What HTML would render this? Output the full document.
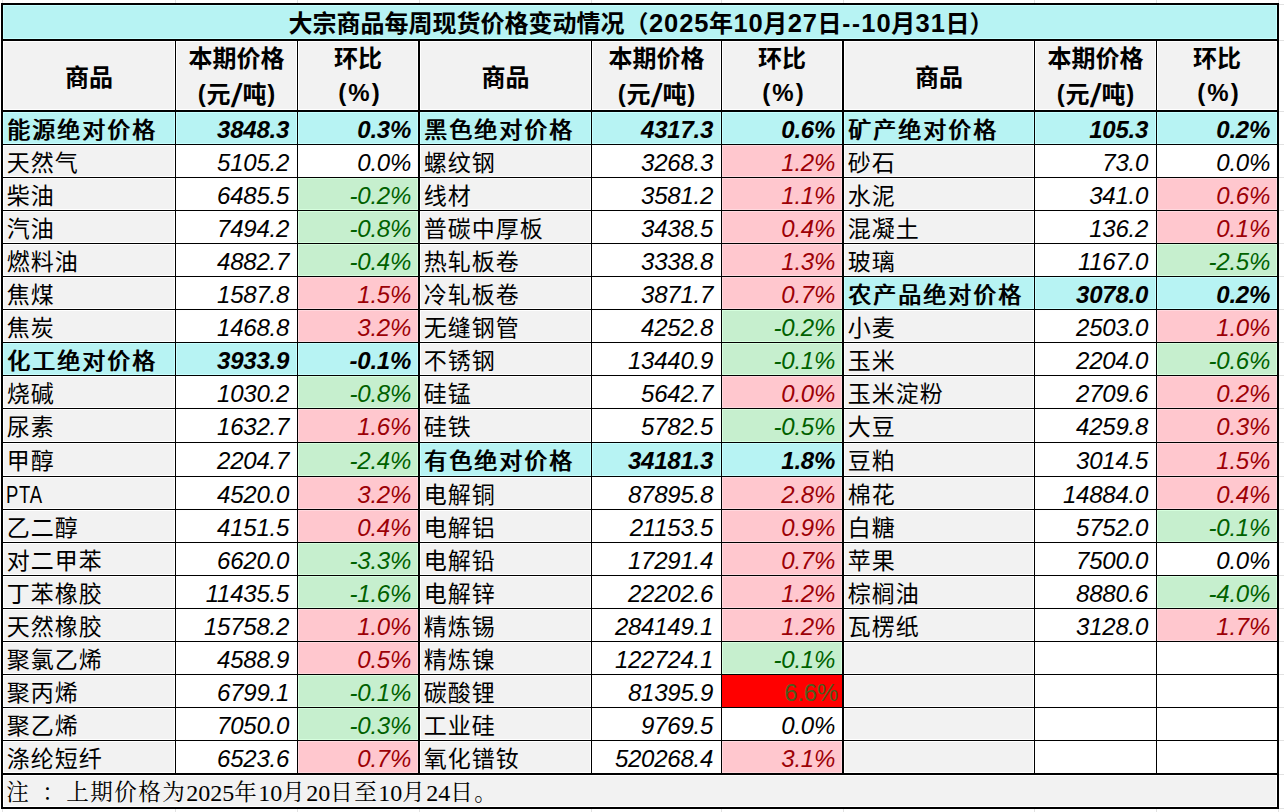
<!DOCTYPE html>
<html lang="zh-CN"><head><meta charset="utf-8"><title>大宗商品每周现货价格变动情况</title>
<style>
html,body{margin:0;padding:0;background:#fff;}
body{width:1284px;height:812px;position:relative;overflow:hidden;}
#t div{position:absolute;box-sizing:border-box;}
.c{white-space:nowrap;overflow:visible;color:#000;}
.cy{background:#b7f3f3;box-shadow:inset 0 0 0 1px #c6ffff;}
.gr{background:#f2f2f2;box-shadow:inset 0 0 0 1px #ffffff;}
.pk{background:#ffc7ce;box-shadow:inset 0 0 0 1px #ffd8de;color:#9c0006;}
.gn{background:#c6efce;box-shadow:inset 0 0 0 1px #d6ffde;color:#006100;}
.wh{background:#fff;}
.rd{background:#f00;}
.title{font:bold 24px "Liberation Sans","Noto Sans CJK SC",sans-serif;text-align:center;line-height:34px;padding-top:2px;padding-left:1.8px;}
.title i{font-style:normal;line-height:0;font-size:25.5px;letter-spacing:0.95px;margin-right:-0.475px;margin-left:0.475px;}
.title b{letter-spacing:1.7px;margin-right:-0.85px;margin-left:0.85px;}
.hd{font:bold 24px "Liberation Sans","Noto Sans CJK SC",sans-serif;text-align:center;}
.hd span{display:block;position:absolute;left:0;width:100%;line-height:36px;}
.hd .l0{top:19px;}
.hd .l1{top:0px;}
.hd .l2{top:36px;}
.hd .l2.pc{top:34px;}
.hd .pc{letter-spacing:2px;padding-left:2px;}
.hd u{text-decoration:none;display:inline-block;width:9.7px;position:relative;top:-1.5px;}
.hd s{text-decoration:none;display:inline-block;width:12px;transform:scaleX(1.4);font-family:"Noto Sans CJK SC",sans-serif;font-size:24.5px;position:relative;top:-0.5px;line-height:0;height:0;}
.nm{font:normal 23px "Liberation Sans","Noto Sans CJK SC",sans-serif;padding-left:3.75px;line-height:32px;padding-top:2px;letter-spacing:1px;}
.nm.b{font-weight:400;text-shadow:1px 0 0 #000;letter-spacing:2px;padding-left:3.75px;}
.lat{display:inline-block;font-size:24px;line-height:0;letter-spacing:1px;transform:scaleX(0.77);transform-origin:0 50%;margin-left:-0.5px;}
.num{font:italic 24px "Liberation Sans",sans-serif;letter-spacing:-0.25px;text-align:right;padding-right:8px;line-height:32px;padding-top:2px;}
.num.p{padding-right:7px;}
.num.b{font-weight:bold;}
.num.x{font-style:normal;color:#4f5b1e;padding-right:4px;}
.note{font:22.5px "Liberation Serif","Noto Serif CJK SC",serif;padding-left:3.25px;line-height:32px;padding-top:2px;letter-spacing:1.5px;}
.note i{font-style:normal;position:relative;top:1px;font-size:24px;letter-spacing:0px;line-height:0;}
.note b{font-weight:normal;display:inline-block;width:12px;letter-spacing:0;white-space:pre;}
.note em{font-style:normal;display:inline-block;width:24px;text-align:left;text-indent:0px;letter-spacing:0;}
</style></head>
<body><div id="t">
<div style="left:1279px;top:4px;width:5px;height:1px;background:#e2e2e2;"></div>
<div style="left:1279px;top:40px;width:5px;height:1px;background:#e2e2e2;"></div>
<div style="left:1279px;top:111px;width:5px;height:1px;background:#e2e2e2;"></div>
<div style="left:1279px;top:144px;width:5px;height:1px;background:#e2e2e2;"></div>
<div style="left:1279px;top:177px;width:5px;height:1px;background:#e2e2e2;"></div>
<div style="left:1279px;top:210px;width:5px;height:1px;background:#e2e2e2;"></div>
<div style="left:1279px;top:243px;width:5px;height:1px;background:#e2e2e2;"></div>
<div style="left:1279px;top:276px;width:5px;height:1px;background:#e2e2e2;"></div>
<div style="left:1279px;top:309px;width:5px;height:1px;background:#e2e2e2;"></div>
<div style="left:1279px;top:342px;width:5px;height:1px;background:#e2e2e2;"></div>
<div style="left:1279px;top:375px;width:5px;height:1px;background:#e2e2e2;"></div>
<div style="left:1279px;top:408px;width:5px;height:1px;background:#e2e2e2;"></div>
<div style="left:1279px;top:442px;width:5px;height:1px;background:#e2e2e2;"></div>
<div style="left:1279px;top:476px;width:5px;height:1px;background:#e2e2e2;"></div>
<div style="left:1279px;top:509px;width:5px;height:1px;background:#e2e2e2;"></div>
<div style="left:1279px;top:542px;width:5px;height:1px;background:#e2e2e2;"></div>
<div style="left:1279px;top:575px;width:5px;height:1px;background:#e2e2e2;"></div>
<div style="left:1279px;top:608px;width:5px;height:1px;background:#e2e2e2;"></div>
<div style="left:1279px;top:641px;width:5px;height:1px;background:#e2e2e2;"></div>
<div style="left:1279px;top:674px;width:5px;height:1px;background:#e2e2e2;"></div>
<div style="left:1279px;top:707px;width:5px;height:1px;background:#e2e2e2;"></div>
<div style="left:1279px;top:740px;width:5px;height:1px;background:#e2e2e2;"></div>
<div style="left:1279px;top:774px;width:5px;height:1px;background:#e2e2e2;"></div>
<div style="left:1279px;top:808px;width:5px;height:1px;background:#e2e2e2;"></div>
<div style="left:2px;top:0px;width:1px;height:3px;background:#e2e2e2;"></div>
<div style="left:2px;top:809px;width:1px;height:3px;background:#e2e2e2;"></div>
<div style="left:175px;top:0px;width:1px;height:3px;background:#e2e2e2;"></div>
<div style="left:175px;top:809px;width:1px;height:3px;background:#e2e2e2;"></div>
<div style="left:297px;top:0px;width:1px;height:3px;background:#e2e2e2;"></div>
<div style="left:297px;top:809px;width:1px;height:3px;background:#e2e2e2;"></div>
<div style="left:419px;top:0px;width:1px;height:3px;background:#e2e2e2;"></div>
<div style="left:419px;top:809px;width:1px;height:3px;background:#e2e2e2;"></div>
<div style="left:591px;top:0px;width:1px;height:3px;background:#e2e2e2;"></div>
<div style="left:591px;top:809px;width:1px;height:3px;background:#e2e2e2;"></div>
<div style="left:721px;top:0px;width:1px;height:3px;background:#e2e2e2;"></div>
<div style="left:721px;top:809px;width:1px;height:3px;background:#e2e2e2;"></div>
<div style="left:843px;top:0px;width:1px;height:3px;background:#e2e2e2;"></div>
<div style="left:843px;top:809px;width:1px;height:3px;background:#e2e2e2;"></div>
<div style="left:1034px;top:0px;width:1px;height:3px;background:#e2e2e2;"></div>
<div style="left:1034px;top:809px;width:1px;height:3px;background:#e2e2e2;"></div>
<div style="left:1156px;top:0px;width:1px;height:3px;background:#e2e2e2;"></div>
<div style="left:1156px;top:809px;width:1px;height:3px;background:#e2e2e2;"></div>
<div style="left:1278px;top:0px;width:1px;height:3px;background:#e2e2e2;"></div>
<div style="left:1278px;top:809px;width:1px;height:3px;background:#e2e2e2;"></div>
<div style="left:1px;top:3px;width:1278px;height:806px;background:#000;"></div>
<div class="c cy title" style="left:3px;top:5px;width:1274px;height:34px;">大宗商品每周现货价格变动情况（<i>2025</i>年<i>10</i>月<i>27</i>日<b>--</b><i>10</i>月<i>31</i>日）</div>
<div class="c gr hd hd1" style="left:3px;top:41px;width:172px;height:69px;"><span class="l0">商品</span></div>
<div class="c gr hd hd2" style="left:176px;top:41px;width:121px;height:69px;"><span class="l1">本期价格</span><span class="l2"><u>(</u>元<s>/</s>吨<u>)</u></span></div>
<div class="c gr hd hd2" style="left:298px;top:41px;width:120px;height:69px;"><span class="l1">环比</span><span class="l2 pc">(%)</span></div>
<div class="c gr hd hd1" style="left:420px;top:41px;width:171px;height:69px;"><span class="l0">商品</span></div>
<div class="c gr hd hd2" style="left:592px;top:41px;width:129px;height:69px;"><span class="l1">本期价格</span><span class="l2"><u>(</u>元<s>/</s>吨<u>)</u></span></div>
<div class="c gr hd hd2" style="left:722px;top:41px;width:120px;height:69px;"><span class="l1">环比</span><span class="l2 pc">(%)</span></div>
<div class="c gr hd hd1" style="left:844px;top:41px;width:190px;height:69px;"><span class="l0">商品</span></div>
<div class="c gr hd hd2" style="left:1035px;top:41px;width:121px;height:69px;"><span class="l1">本期价格</span><span class="l2"><u>(</u>元<s>/</s>吨<u>)</u></span></div>
<div class="c gr hd hd2" style="left:1157px;top:41px;width:120px;height:69px;"><span class="l1">环比</span><span class="l2 pc">(%)</span></div>
<div class="c cy nm b" style="left:3px;top:112px;width:172px;height:32px;">能源绝对价格</div>
<div class="c cy num b" style="left:176px;top:112px;width:121px;height:32px;">3848.3</div>
<div class="c cy num p b" style="left:298px;top:112px;width:120px;height:32px;">0.3%</div>
<div class="c gr nm" style="left:3px;top:145px;width:172px;height:32px;">天然气</div>
<div class="c wh num" style="left:176px;top:145px;width:121px;height:32px;">5105.2</div>
<div class="c wh num p" style="left:298px;top:145px;width:120px;height:32px;">0.0%</div>
<div class="c gr nm" style="left:3px;top:178px;width:172px;height:32px;">柴油</div>
<div class="c wh num" style="left:176px;top:178px;width:121px;height:32px;">6485.5</div>
<div class="c gn num p" style="left:298px;top:178px;width:120px;height:32px;">-0.2%</div>
<div class="c gr nm" style="left:3px;top:211px;width:172px;height:32px;">汽油</div>
<div class="c wh num" style="left:176px;top:211px;width:121px;height:32px;">7494.2</div>
<div class="c gn num p" style="left:298px;top:211px;width:120px;height:32px;">-0.8%</div>
<div class="c gr nm" style="left:3px;top:244px;width:172px;height:32px;">燃料油</div>
<div class="c wh num" style="left:176px;top:244px;width:121px;height:32px;">4882.7</div>
<div class="c gn num p" style="left:298px;top:244px;width:120px;height:32px;">-0.4%</div>
<div class="c gr nm" style="left:3px;top:277px;width:172px;height:32px;">焦煤</div>
<div class="c wh num" style="left:176px;top:277px;width:121px;height:32px;">1587.8</div>
<div class="c pk num p" style="left:298px;top:277px;width:120px;height:32px;">1.5%</div>
<div class="c gr nm" style="left:3px;top:310px;width:172px;height:32px;">焦炭</div>
<div class="c wh num" style="left:176px;top:310px;width:121px;height:32px;">1468.8</div>
<div class="c pk num p" style="left:298px;top:310px;width:120px;height:32px;">3.2%</div>
<div class="c cy nm b" style="left:3px;top:343px;width:172px;height:32px;">化工绝对价格</div>
<div class="c cy num b" style="left:176px;top:343px;width:121px;height:32px;">3933.9</div>
<div class="c cy num p b" style="left:298px;top:343px;width:120px;height:32px;">-0.1%</div>
<div class="c gr nm" style="left:3px;top:376px;width:172px;height:32px;">烧碱</div>
<div class="c wh num" style="left:176px;top:376px;width:121px;height:32px;">1030.2</div>
<div class="c gn num p" style="left:298px;top:376px;width:120px;height:32px;">-0.8%</div>
<div class="c gr nm" style="left:3px;top:409px;width:172px;height:33px;">尿素</div>
<div class="c wh num" style="left:176px;top:409px;width:121px;height:33px;">1632.7</div>
<div class="c pk num p" style="left:298px;top:409px;width:120px;height:33px;">1.6%</div>
<div class="c gr nm" style="left:3px;top:443px;width:172px;height:33px;">甲醇</div>
<div class="c wh num" style="left:176px;top:443px;width:121px;height:33px;">2204.7</div>
<div class="c gn num p" style="left:298px;top:443px;width:120px;height:33px;">-2.4%</div>
<div class="c gr nm" style="left:3px;top:477px;width:172px;height:32px;"><span class="lat">PTA</span></div>
<div class="c wh num" style="left:176px;top:477px;width:121px;height:32px;">4520.0</div>
<div class="c pk num p" style="left:298px;top:477px;width:120px;height:32px;">3.2%</div>
<div class="c gr nm" style="left:3px;top:510px;width:172px;height:32px;">乙二醇</div>
<div class="c wh num" style="left:176px;top:510px;width:121px;height:32px;">4151.5</div>
<div class="c pk num p" style="left:298px;top:510px;width:120px;height:32px;">0.4%</div>
<div class="c gr nm" style="left:3px;top:543px;width:172px;height:32px;">对二甲苯</div>
<div class="c wh num" style="left:176px;top:543px;width:121px;height:32px;">6620.0</div>
<div class="c gn num p" style="left:298px;top:543px;width:120px;height:32px;">-3.3%</div>
<div class="c gr nm" style="left:3px;top:576px;width:172px;height:32px;">丁苯橡胶</div>
<div class="c wh num" style="left:176px;top:576px;width:121px;height:32px;">11435.5</div>
<div class="c gn num p" style="left:298px;top:576px;width:120px;height:32px;">-1.6%</div>
<div class="c gr nm" style="left:3px;top:609px;width:172px;height:32px;">天然橡胶</div>
<div class="c wh num" style="left:176px;top:609px;width:121px;height:32px;">15758.2</div>
<div class="c pk num p" style="left:298px;top:609px;width:120px;height:32px;">1.0%</div>
<div class="c gr nm" style="left:3px;top:642px;width:172px;height:32px;">聚氯乙烯</div>
<div class="c wh num" style="left:176px;top:642px;width:121px;height:32px;">4588.9</div>
<div class="c pk num p" style="left:298px;top:642px;width:120px;height:32px;">0.5%</div>
<div class="c gr nm" style="left:3px;top:675px;width:172px;height:32px;">聚丙烯</div>
<div class="c wh num" style="left:176px;top:675px;width:121px;height:32px;">6799.1</div>
<div class="c gn num p" style="left:298px;top:675px;width:120px;height:32px;">-0.1%</div>
<div class="c gr nm" style="left:3px;top:708px;width:172px;height:32px;">聚乙烯</div>
<div class="c wh num" style="left:176px;top:708px;width:121px;height:32px;">7050.0</div>
<div class="c gn num p" style="left:298px;top:708px;width:120px;height:32px;">-0.3%</div>
<div class="c gr nm" style="left:3px;top:741px;width:172px;height:32px;">涤纶短纤</div>
<div class="c wh num" style="left:176px;top:741px;width:121px;height:32px;">6523.6</div>
<div class="c pk num p" style="left:298px;top:741px;width:120px;height:32px;">0.7%</div>
<div class="c cy nm b" style="left:420px;top:112px;width:171px;height:32px;">黑色绝对价格</div>
<div class="c cy num b" style="left:592px;top:112px;width:129px;height:32px;">4317.3</div>
<div class="c cy num p b" style="left:722px;top:112px;width:120px;height:32px;">0.6%</div>
<div class="c gr nm" style="left:420px;top:145px;width:171px;height:32px;">螺纹钢</div>
<div class="c wh num" style="left:592px;top:145px;width:129px;height:32px;">3268.3</div>
<div class="c pk num p" style="left:722px;top:145px;width:120px;height:32px;">1.2%</div>
<div class="c gr nm" style="left:420px;top:178px;width:171px;height:32px;">线材</div>
<div class="c wh num" style="left:592px;top:178px;width:129px;height:32px;">3581.2</div>
<div class="c pk num p" style="left:722px;top:178px;width:120px;height:32px;">1.1%</div>
<div class="c gr nm" style="left:420px;top:211px;width:171px;height:32px;">普碳中厚板</div>
<div class="c wh num" style="left:592px;top:211px;width:129px;height:32px;">3438.5</div>
<div class="c pk num p" style="left:722px;top:211px;width:120px;height:32px;">0.4%</div>
<div class="c gr nm" style="left:420px;top:244px;width:171px;height:32px;">热轧板卷</div>
<div class="c wh num" style="left:592px;top:244px;width:129px;height:32px;">3338.8</div>
<div class="c pk num p" style="left:722px;top:244px;width:120px;height:32px;">1.3%</div>
<div class="c gr nm" style="left:420px;top:277px;width:171px;height:32px;">冷轧板卷</div>
<div class="c wh num" style="left:592px;top:277px;width:129px;height:32px;">3871.7</div>
<div class="c pk num p" style="left:722px;top:277px;width:120px;height:32px;">0.7%</div>
<div class="c gr nm" style="left:420px;top:310px;width:171px;height:32px;">无缝钢管</div>
<div class="c wh num" style="left:592px;top:310px;width:129px;height:32px;">4252.8</div>
<div class="c gn num p" style="left:722px;top:310px;width:120px;height:32px;">-0.2%</div>
<div class="c gr nm" style="left:420px;top:343px;width:171px;height:32px;">不锈钢</div>
<div class="c wh num" style="left:592px;top:343px;width:129px;height:32px;">13440.9</div>
<div class="c gn num p" style="left:722px;top:343px;width:120px;height:32px;">-0.1%</div>
<div class="c gr nm" style="left:420px;top:376px;width:171px;height:32px;">硅锰</div>
<div class="c wh num" style="left:592px;top:376px;width:129px;height:32px;">5642.7</div>
<div class="c pk num p" style="left:722px;top:376px;width:120px;height:32px;">0.0%</div>
<div class="c gr nm" style="left:420px;top:409px;width:171px;height:33px;">硅铁</div>
<div class="c wh num" style="left:592px;top:409px;width:129px;height:33px;">5782.5</div>
<div class="c gn num p" style="left:722px;top:409px;width:120px;height:33px;">-0.5%</div>
<div class="c cy nm b" style="left:420px;top:443px;width:171px;height:33px;">有色绝对价格</div>
<div class="c cy num b" style="left:592px;top:443px;width:129px;height:33px;">34181.3</div>
<div class="c cy num p b" style="left:722px;top:443px;width:120px;height:33px;">1.8%</div>
<div class="c gr nm" style="left:420px;top:477px;width:171px;height:32px;">电解铜</div>
<div class="c wh num" style="left:592px;top:477px;width:129px;height:32px;">87895.8</div>
<div class="c pk num p" style="left:722px;top:477px;width:120px;height:32px;">2.8%</div>
<div class="c gr nm" style="left:420px;top:510px;width:171px;height:32px;">电解铝</div>
<div class="c wh num" style="left:592px;top:510px;width:129px;height:32px;">21153.5</div>
<div class="c pk num p" style="left:722px;top:510px;width:120px;height:32px;">0.9%</div>
<div class="c gr nm" style="left:420px;top:543px;width:171px;height:32px;">电解铅</div>
<div class="c wh num" style="left:592px;top:543px;width:129px;height:32px;">17291.4</div>
<div class="c pk num p" style="left:722px;top:543px;width:120px;height:32px;">0.7%</div>
<div class="c gr nm" style="left:420px;top:576px;width:171px;height:32px;">电解锌</div>
<div class="c wh num" style="left:592px;top:576px;width:129px;height:32px;">22202.6</div>
<div class="c pk num p" style="left:722px;top:576px;width:120px;height:32px;">1.2%</div>
<div class="c gr nm" style="left:420px;top:609px;width:171px;height:32px;">精炼锡</div>
<div class="c wh num" style="left:592px;top:609px;width:129px;height:32px;">284149.1</div>
<div class="c pk num p" style="left:722px;top:609px;width:120px;height:32px;">1.2%</div>
<div class="c gr nm" style="left:420px;top:642px;width:171px;height:32px;">精炼镍</div>
<div class="c wh num" style="left:592px;top:642px;width:129px;height:32px;">122724.1</div>
<div class="c gn num p" style="left:722px;top:642px;width:120px;height:32px;">-0.1%</div>
<div class="c gr nm" style="left:420px;top:675px;width:171px;height:32px;">碳酸锂</div>
<div class="c wh num" style="left:592px;top:675px;width:129px;height:32px;">81395.9</div>
<div class="c rd num x" style="left:722px;top:675px;width:120px;height:32px;">6.6%</div>
<div class="c gr nm" style="left:420px;top:708px;width:171px;height:32px;">工业硅</div>
<div class="c wh num" style="left:592px;top:708px;width:129px;height:32px;">9769.5</div>
<div class="c wh num p" style="left:722px;top:708px;width:120px;height:32px;">0.0%</div>
<div class="c gr nm" style="left:420px;top:741px;width:171px;height:32px;">氧化镨钕</div>
<div class="c wh num" style="left:592px;top:741px;width:129px;height:32px;">520268.4</div>
<div class="c pk num p" style="left:722px;top:741px;width:120px;height:32px;">3.1%</div>
<div class="c cy nm b" style="left:844px;top:112px;width:190px;height:32px;">矿产绝对价格</div>
<div class="c cy num b" style="left:1035px;top:112px;width:121px;height:32px;">105.3</div>
<div class="c cy num p b" style="left:1157px;top:112px;width:120px;height:32px;">0.2%</div>
<div class="c gr nm" style="left:844px;top:145px;width:190px;height:32px;">砂石</div>
<div class="c wh num" style="left:1035px;top:145px;width:121px;height:32px;">73.0</div>
<div class="c wh num p" style="left:1157px;top:145px;width:120px;height:32px;">0.0%</div>
<div class="c gr nm" style="left:844px;top:178px;width:190px;height:32px;">水泥</div>
<div class="c wh num" style="left:1035px;top:178px;width:121px;height:32px;">341.0</div>
<div class="c pk num p" style="left:1157px;top:178px;width:120px;height:32px;">0.6%</div>
<div class="c gr nm" style="left:844px;top:211px;width:190px;height:32px;">混凝土</div>
<div class="c wh num" style="left:1035px;top:211px;width:121px;height:32px;">136.2</div>
<div class="c pk num p" style="left:1157px;top:211px;width:120px;height:32px;">0.1%</div>
<div class="c gr nm" style="left:844px;top:244px;width:190px;height:32px;">玻璃</div>
<div class="c wh num" style="left:1035px;top:244px;width:121px;height:32px;">1167.0</div>
<div class="c gn num p" style="left:1157px;top:244px;width:120px;height:32px;">-2.5%</div>
<div class="c cy nm b" style="left:844px;top:277px;width:190px;height:32px;">农产品绝对价格</div>
<div class="c cy num b" style="left:1035px;top:277px;width:121px;height:32px;">3078.0</div>
<div class="c cy num p b" style="left:1157px;top:277px;width:120px;height:32px;">0.2%</div>
<div class="c gr nm" style="left:844px;top:310px;width:190px;height:32px;">小麦</div>
<div class="c wh num" style="left:1035px;top:310px;width:121px;height:32px;">2503.0</div>
<div class="c pk num p" style="left:1157px;top:310px;width:120px;height:32px;">1.0%</div>
<div class="c gr nm" style="left:844px;top:343px;width:190px;height:32px;">玉米</div>
<div class="c wh num" style="left:1035px;top:343px;width:121px;height:32px;">2204.0</div>
<div class="c gn num p" style="left:1157px;top:343px;width:120px;height:32px;">-0.6%</div>
<div class="c gr nm" style="left:844px;top:376px;width:190px;height:32px;">玉米淀粉</div>
<div class="c wh num" style="left:1035px;top:376px;width:121px;height:32px;">2709.6</div>
<div class="c pk num p" style="left:1157px;top:376px;width:120px;height:32px;">0.2%</div>
<div class="c gr nm" style="left:844px;top:409px;width:190px;height:33px;">大豆</div>
<div class="c wh num" style="left:1035px;top:409px;width:121px;height:33px;">4259.8</div>
<div class="c pk num p" style="left:1157px;top:409px;width:120px;height:33px;">0.3%</div>
<div class="c gr nm" style="left:844px;top:443px;width:190px;height:33px;">豆粕</div>
<div class="c wh num" style="left:1035px;top:443px;width:121px;height:33px;">3014.5</div>
<div class="c pk num p" style="left:1157px;top:443px;width:120px;height:33px;">1.5%</div>
<div class="c gr nm" style="left:844px;top:477px;width:190px;height:32px;">棉花</div>
<div class="c wh num" style="left:1035px;top:477px;width:121px;height:32px;">14884.0</div>
<div class="c pk num p" style="left:1157px;top:477px;width:120px;height:32px;">0.4%</div>
<div class="c gr nm" style="left:844px;top:510px;width:190px;height:32px;">白糖</div>
<div class="c wh num" style="left:1035px;top:510px;width:121px;height:32px;">5752.0</div>
<div class="c gn num p" style="left:1157px;top:510px;width:120px;height:32px;">-0.1%</div>
<div class="c gr nm" style="left:844px;top:543px;width:190px;height:32px;">苹果</div>
<div class="c wh num" style="left:1035px;top:543px;width:121px;height:32px;">7500.0</div>
<div class="c wh num p" style="left:1157px;top:543px;width:120px;height:32px;">0.0%</div>
<div class="c gr nm" style="left:844px;top:576px;width:190px;height:32px;">棕榈油</div>
<div class="c wh num" style="left:1035px;top:576px;width:121px;height:32px;">8880.6</div>
<div class="c gn num p" style="left:1157px;top:576px;width:120px;height:32px;">-4.0%</div>
<div class="c gr nm" style="left:844px;top:609px;width:190px;height:32px;">瓦楞纸</div>
<div class="c wh num" style="left:1035px;top:609px;width:121px;height:32px;">3128.0</div>
<div class="c pk num p" style="left:1157px;top:609px;width:120px;height:32px;">1.7%</div>
<div class="c gr nm" style="left:844px;top:642px;width:190px;height:32px;"></div>
<div class="c wh num" style="left:1035px;top:642px;width:121px;height:32px;"></div>
<div class="c wh num p" style="left:1157px;top:642px;width:120px;height:32px;"></div>
<div class="c gr nm" style="left:844px;top:675px;width:190px;height:32px;"></div>
<div class="c wh num" style="left:1035px;top:675px;width:121px;height:32px;"></div>
<div class="c wh num p" style="left:1157px;top:675px;width:120px;height:32px;"></div>
<div class="c gr nm" style="left:844px;top:708px;width:190px;height:32px;"></div>
<div class="c wh num" style="left:1035px;top:708px;width:121px;height:32px;"></div>
<div class="c wh num p" style="left:1157px;top:708px;width:120px;height:32px;"></div>
<div class="c gr nm" style="left:844px;top:741px;width:190px;height:32px;"></div>
<div class="c wh num" style="left:1035px;top:741px;width:121px;height:32px;"></div>
<div class="c wh num p" style="left:1157px;top:741px;width:120px;height:32px;"></div>
<div class="c gr note" style="left:3px;top:775px;width:1274px;height:32px;">注<b> </b><em>：</em>上期价格为<i>2025</i>年<i>10</i>月<i>20</i>日至<i>10</i>月<i>24</i>日。</div>
</div></body></html>
